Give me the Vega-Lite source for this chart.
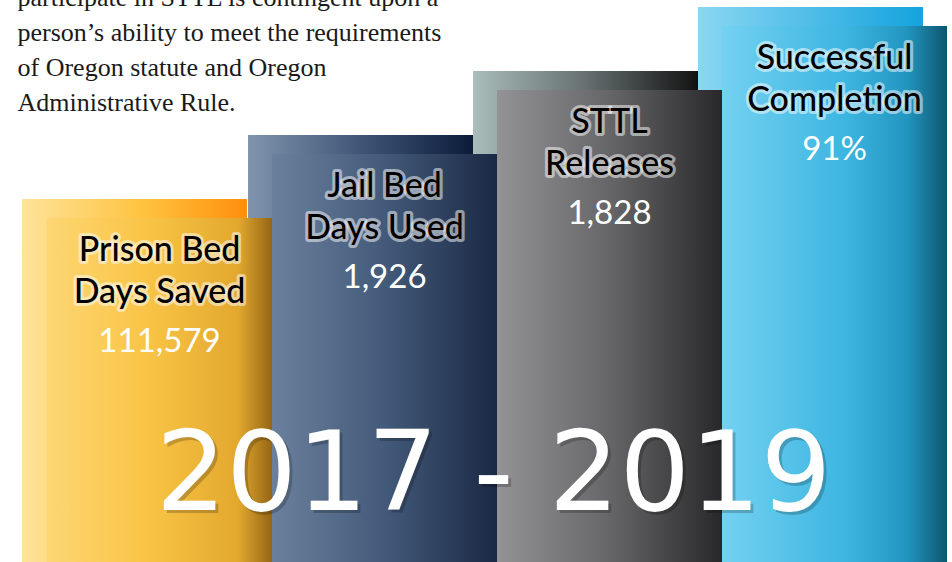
{
  "$schema": "https://vega.github.io/schema/vega-lite/v6.json",
  "width": 952,
  "height": 562,
  "padding": 0,
  "autosize": {"type": "none"},
  "background": "#ffffff",
  "config": {"view": {"stroke": null}},
  "data": {"values": [
    {"measure": "Prison Bed Days Saved", "label": "Prison Bed\nDays Saved", "value": 111579, "display": "111,579", "step": 1},
    {"measure": "Jail Bed Days Used", "label": "Jail Bed\nDays Used", "value": 1926, "display": "1,926", "step": 2},
    {"measure": "STTL Releases", "label": "STTL\nReleases", "value": 1828, "display": "1,828", "step": 3},
    {"measure": "Successful Completion", "label": "Successful\nCompletion", "value": 91, "display": "91%", "step": 4}
  ]},
  "encoding": {
    "x": {"field": "measure", "type": "nominal", "axis": null, "sort": null,
      "scale": {"type": "band", "domain": ["Prison Bed Days Saved", "Jail Bed Days Used", "STTL Releases", "Successful Completion"], "paddingInner": 0, "paddingOuter": 0.1156, "align": 0.904}},
    "y": {"field": "step", "type": "quantitative", "axis": null,
      "scale": {"domain": [-4.375, 4.40625], "nice": false, "zero": false}}
  },
  "layer": [
    {"transform": [{"filter": "datum.step == 1"}],
     "mark": {"type": "bar", "clip": true, "xOffset": -25, "x2Offset": -24, "yOffset": -19,
       "fill": {"gradient": "linear", "x1": 0, "y1": 0, "x2": 1, "y2": 0, "stops": [{"offset": 0, "color": "#FFE39A"}, {"offset": 0.55, "color": "#FFC23E"}, {"offset": 1, "color": "#FF8E0C"}]}},
     "encoding": {"y2": {"datum": -4.375}}},
    {"transform": [{"filter": "datum.step == 2"}],
     "mark": {"type": "bar", "clip": true, "xOffset": -24, "x2Offset": -24, "yOffset": -19,
       "fill": {"gradient": "linear", "x1": 0, "y1": 0, "x2": 1, "y2": 0, "stops": [{"offset": 0, "color": "#8094AC"}, {"offset": 0.5, "color": "#3F5677"}, {"offset": 1, "color": "#0C1B3A"}]}},
     "encoding": {"y2": {"datum": -4.375}}},
    {"transform": [{"filter": "datum.step == 3"}],
     "mark": {"type": "bar", "clip": true, "xOffset": -24, "x2Offset": -24, "yOffset": -19,
       "fill": {"gradient": "linear", "x1": 0, "y1": 0, "x2": 1, "y2": 0, "stops": [{"offset": 0, "color": "#A9BDBB"}, {"offset": 0.5, "color": "#667070"}, {"offset": 1, "color": "#121212"}]}},
     "encoding": {"y2": {"datum": -4.375}}},
    {"transform": [{"filter": "datum.step == 4"}],
     "mark": {"type": "bar", "clip": true, "xOffset": -24, "x2Offset": -24, "yOffset": -19,
       "fill": {"gradient": "linear", "x1": 0, "y1": 0, "x2": 1, "y2": 0, "stops": [{"offset": 0, "color": "#8AD7F2"}, {"offset": 1, "color": "#14A3DD"}]}},
     "encoding": {"y2": {"datum": -4.375}}},
    {"transform": [{"filter": "datum.step == 1"}],
     "mark": {"type": "bar", "clip": true,
       "fill": {"gradient": "linear", "x1": 0, "y1": 0, "x2": 1, "y2": 0, "stops": [{"offset": 0, "color": "#FDD673"}, {"offset": 0.45, "color": "#F9C445"}, {"offset": 0.85, "color": "#E2A82E"}, {"offset": 1, "color": "#946515"}]}},
     "encoding": {"y2": {"datum": -4.375}}},
    {"transform": [{"filter": "datum.step == 2"}],
     "mark": {"type": "bar", "clip": true,
       "fill": {"gradient": "linear", "x1": 0, "y1": 0, "x2": 1, "y2": 0, "stops": [{"offset": 0, "color": "#6B809C"}, {"offset": 0.5, "color": "#435A7A"}, {"offset": 1, "color": "#1A2944"}]}},
     "encoding": {"y2": {"datum": -4.375}}},
    {"transform": [{"filter": "datum.step == 3"}],
     "mark": {"type": "bar", "clip": true,
       "fill": {"gradient": "linear", "x1": 0, "y1": 0, "x2": 1, "y2": 0, "stops": [{"offset": 0, "color": "#939396"}, {"offset": 0.5, "color": "#666669"}, {"offset": 1, "color": "#28282A"}]}},
     "encoding": {"y2": {"datum": -4.375}}},
    {"transform": [{"filter": "datum.step == 4"}],
     "mark": {"type": "bar", "clip": true,
       "fill": {"gradient": "linear", "x1": 0, "y1": 0, "x2": 1, "y2": 0, "stops": [{"offset": 0, "color": "#74D1F1"}, {"offset": 0.55, "color": "#3CB5E1"}, {"offset": 0.82, "color": "#2296BF"}, {"offset": 1, "color": "#0D566F"}]}},
     "encoding": {"y2": {"datum": -4.375}}},
    {"mark": {"type": "text", "font": "Lato", "fontSize": 34, "fontWeight": 500, "lineBreak": "\n", "lineHeight": 42, "dy": 43, "baseline": "alphabetic", "align": "center", "fill": "#ffffff", "fillOpacity": 0.6, "stroke": "#ffffff", "strokeWidth": 6, "strokeOpacity": 0.5, "strokeJoin": "round"},
     "encoding": {"text": {"field": "label"}}},
    {"mark": {"type": "text", "font": "Lato", "fontSize": 34, "fontWeight": 500, "lineBreak": "\n", "lineHeight": 42, "dy": 43, "baseline": "alphabetic", "align": "center", "fill": "#000000"},
     "encoding": {"text": {"field": "label"}}},
    {"mark": {"type": "text", "font": "Lato", "fontSize": 33, "fontWeight": 400, "dy": 134, "baseline": "alphabetic", "align": "center", "fill": "#ffffff"},
     "encoding": {"text": {"field": "display"}}},
    {"data": {"values": [{"measure": "STTL Releases", "period": "2017 - 2019", "step": -3.5625}]},
     "mark": {"type": "text", "font": "DejaVu Sans", "fontSize": 111, "fontWeight": 400, "baseline": "alphabetic", "align": "center", "fill": "#000000", "opacity": 0.2, "dx": -113, "dy": 3},
     "encoding": {"text": {"field": "period"}}},
    {"data": {"values": [{"measure": "STTL Releases", "period": "2017 - 2019", "step": -3.5625}]},
     "mark": {"type": "text", "font": "DejaVu Sans", "fontSize": 111, "fontWeight": 400, "baseline": "alphabetic", "align": "center", "fill": "#ffffff", "dx": -116},
     "encoding": {"text": {"field": "period"}}},
    {"data": {"values": [{"measure": "Prison Bed Days Saved", "note": "participate in STTL is contingent upon a\nperson’s ability to meet the requirements\nof Oregon statute and Oregon\nAdministrative Rule.", "step": 4.305}]},
     "mark": {"type": "text", "font": "Liberation Serif", "fontSize": 26, "lineBreak": "\n", "lineHeight": 35, "baseline": "alphabetic", "align": "left", "fill": "#1a1a1a", "dx": -142},
     "encoding": {"text": {"field": "note"}}}
  ]
}
